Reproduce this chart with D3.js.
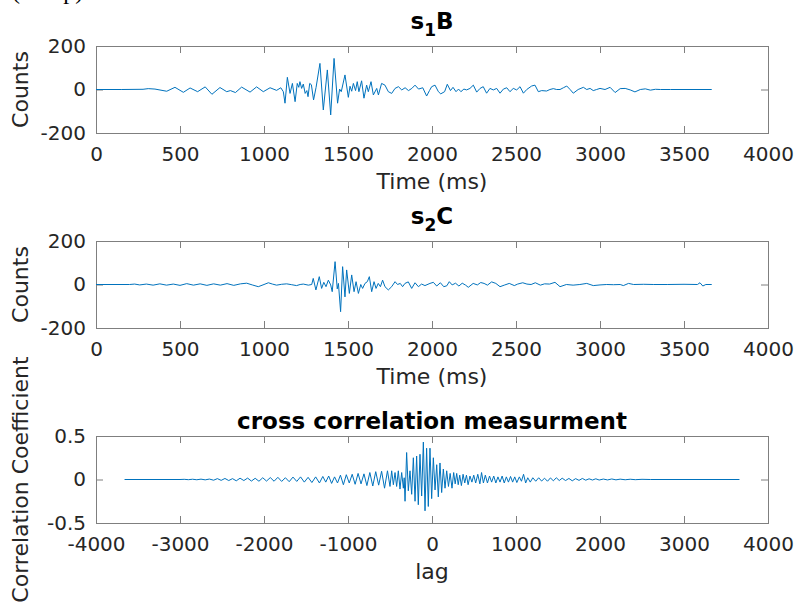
<!DOCTYPE html>
<html>
<head>
<meta charset="utf-8">
<script src="https://cdn.jsdelivr.net/npm/d3@7"></script>
<style>
  body { margin: 0; background: #fff; }
  svg { display: block; font-family: "DejaVu Sans", sans-serif; }
</style>
</head>
<body>
<div id="chart"></div>
<script>
// --- Data: [time (ms), counts] ---
const s1B = [
  [0, 0], [150, 0], [280, 1], [311, 4], [351, 2], [421, -8], [470, 10], [520, -13], [560, 7], [605, -10],
  [650, 12], [690, -22], [738, 9], [778, -10], [800, -5], [830, -14], [867, 11], [917, -12], [956, 12],
  [996, -10], [1036, 8], [1075, -4], [1100, 8], [1115, -10], [1125, -63], [1139, 56], [1155, -18], [1169, 28],
  [1185, -56], [1198, 28], [1207, 10], [1214, 36], [1224, 5], [1234, 25], [1245, -18], [1255, -5], [1262, -33],
  [1272, 28], [1282, 22], [1295, -48], [1310, 10], [1333, 120], [1353, -94], [1377, 90], [1397, -117],
  [1417, 143], [1438, -63], [1450, 2], [1460, -10], [1482, 67], [1502, -36], [1512, 15], [1522, -8],
  [1532, 28], [1545, -5], [1555, 36], [1565, -10], [1581, 40], [1595, -40], [1611, 20], [1621, -10],
  [1637, 36], [1651, -25], [1671, 5], [1681, -25], [1700, 28], [1720, 20], [1740, -10], [1760, -18],
  [1780, 5], [1800, 13], [1820, -2], [1840, 8], [1860, -5], [1880, 5], [1899, 20], [1920, 2], [1945, 8],
  [1968, -30], [1985, -5], [1998, 13], [2018, 20], [2038, -10], [2052, -20], [2075, -10], [2091, 24],
  [2110, -5], [2125, 10], [2143, -10], [2158, 2], [2172, -10], [2190, 2], [2206, -2], [2226, 5], [2246, 20],
  [2266, -12], [2286, 5], [2305, 13], [2325, -17], [2345, 5], [2365, -2], [2385, 5], [2405, -17], [2425, 2],
  [2445, 8], [2464, -10], [2484, 5], [2504, -2], [2524, 13], [2544, -17], [2564, 0], [2593, 16], [2613, 20],
  [2633, -10], [2653, -5], [2682, -7], [2702, 0], [2722, 4], [2742, 0], [2762, 0], [2782, 8], [2802, 16],
  [2822, 0], [2841, -17], [2870, 0], [2901, 10], [2921, 0], [2941, 5], [2960, -5], [2980, 0], [3000, 5],
  [3030, 0], [3060, 10], [3090, -14], [3120, 4], [3150, 5], [3180, -2], [3208, -11], [3240, 0], [3270, 3],
  [3300, -3], [3330, 1], [3360, 0], [3420, 0], [3500, 0], [3665, 0]
];

const s2C = [
  [0, 0], [200, 0], [230, 2], [260, -2], [300, 2], [340, -3], [380, 3], [420, -3], [460, 2], [500, -4],
  [540, 4], [580, -3], [620, 3], [660, -4], [700, 3], [740, -3], [780, 4], [820, -4], [860, 3], [897, 6],
  [930, -2], [966, -10], [1000, 0], [1026, 8], [1050, 2], [1075, -3], [1105, 1], [1135, 3], [1165, -1],
  [1194, -5], [1215, 0], [1234, 2], [1264, -3], [1284, 0], [1293, 28], [1309, -25], [1329, 36], [1343, -18],
  [1356, 10], [1369, -10], [1383, 20], [1397, -2], [1406, -33], [1423, 105], [1436, -20], [1443, 5],
  [1456, -125], [1468, 82], [1482, -57], [1492, 67], [1508, -41], [1522, 44], [1536, -33], [1548, 13],
  [1562, -41], [1576, 0], [1587, -18], [1601, 5], [1615, 13], [1627, 36], [1641, -33], [1655, 13],
  [1667, -18], [1680, 5], [1693, -10], [1706, 20], [1720, -10], [1740, -25], [1760, -10], [1780, 13],
  [1795, 0], [1811, 5], [1825, -10], [1839, 5], [1859, 12], [1879, -18], [1899, 8], [1919, -10], [1938, 2],
  [1958, -5], [1988, 5], [2008, 10], [2028, -7], [2050, 8], [2070, -10], [2088, -6], [2103, 13], [2120, -2],
  [2140, 6], [2160, -7], [2180, 6], [2200, -3], [2216, -13], [2245, 5], [2270, -2], [2290, 9], [2310, 5],
  [2330, -3], [2355, 12], [2380, 5], [2405, -10], [2430, -3], [2460, 5], [2490, -5], [2510, 2], [2540, 8],
  [2565, 2], [2590, 0], [2615, 8], [2645, -3], [2670, 3], [2700, 2], [2732, 10], [2762, -10], [2800, 0],
  [2840, -3], [2880, 0], [2921, 5], [2960, -5], [3000, -2], [3040, 0], [3080, -1], [3120, 0], [3139, -5],
  [3170, 5], [3200, 0], [3260, 1], [3320, 0], [3400, 0], [3500, 1], [3580, 0], [3595, 8], [3612, -7],
  [3630, 0], [3665, 0]
];

// [lag (ms), correlation coefficient]
const xcorr = [
  [-3660, 0], [-3000, 0], [-2950, 0.002], [-2900, -0.002], [-2850, 0.003], [-2800, -0.003], [-2750, 0.004],
  [-2700, -0.004], [-2650, 0.005], [-2600, -0.008], [-2555, 0.01], [-2510, -0.01], [-2465, 0.012],
  [-2420, -0.012], [-2375, 0.01], [-2330, -0.015], [-2285, 0.015], [-2240, -0.012], [-2195, 0.016],
  [-2150, -0.018], [-2105, 0.014], [-2060, -0.02], [-2015, 0.02], [-1970, -0.018], [-1925, 0.022],
  [-1880, -0.02], [-1835, 0.025], [-1790, -0.022], [-1745, 0.02], [-1700, -0.025], [-1655, 0.028],
  [-1610, -0.022], [-1565, 0.03], [-1520, -0.03], [-1475, 0.025], [-1430, -0.035], [-1385, 0.03],
  [-1340, -0.04], [-1300, 0.035], [-1265, -0.03], [-1230, 0.04], [-1195, -0.045], [-1160, 0.03],
  [-1125, -0.04], [-1090, 0.05], [-1055, -0.06], [-1020, 0.055], [-985, -0.04], [-950, 0.06], [-915, -0.055],
  [-880, 0.07], [-845, -0.05], [-810, 0.065], [-775, -0.07], [-740, 0.08], [-705, -0.075], [-670, 0.09],
  [-635, -0.065], [-600, 0.095], [-565, -0.1], [-530, 0.1], [-500, -0.08], [-480, 0.1], [-460, -0.06],
  [-440, 0.08], [-421, -0.08], [-401, 0.1], [-381, -0.11], [-361, 0.08], [-341, -0.1], [-331, 0.02],
  [-321, -0.25], [-302, 0.31], [-282, -0.13], [-262, 0.1], [-242, -0.17], [-222, 0.25], [-202, -0.25],
  [-183, 0.27], [-163, -0.29], [-143, 0.29], [-123, -0.19], [-103, 0.43], [-83, -0.36], [-64, 0.36],
  [-44, -0.31], [-24, 0.36], [-4, -0.22], [16, 0.25], [36, -0.12], [56, 0.17], [75, -0.2], [95, 0.19],
  [115, -0.15], [135, 0.12], [155, -0.1], [175, 0.1], [196, -0.08], [216, 0.07], [238, -0.1], [258, 0.08],
  [276, -0.05], [294, 0.07], [312, -0.06], [330, 0.05], [350, -0.07], [370, 0.06], [390, -0.04], [410, 0.05],
  [430, -0.06], [452, 0.04], [475, -0.03], [497, 0.05], [520, -0.04], [545, 0.06], [570, -0.05], [590, 0.08],
  [612, -0.04], [635, 0.05], [660, -0.04], [685, 0.04], [710, -0.03], [735, 0.04], [760, -0.04], [785, 0.03],
  [810, -0.03], [835, 0.04], [860, -0.04], [885, 0.03], [910, -0.03], [935, 0.035], [960, -0.03], [985, 0.03],
  [1010, -0.035], [1040, 0.03], [1065, -0.02], [1090, 0.06], [1115, -0.04], [1140, 0.02], [1170, -0.03],
  [1200, 0.02], [1235, -0.02], [1270, 0.02], [1305, -0.018], [1340, 0.015], [1375, -0.02], [1410, 0.018],
  [1445, -0.015], [1480, 0.02], [1515, -0.012], [1550, 0.015], [1590, -0.012], [1630, 0.012], [1670, -0.015],
  [1710, 0.01], [1750, -0.01], [1790, 0.012], [1830, -0.008], [1870, 0.008], [1910, -0.006], [1950, 0.008],
  [1990, -0.006], [2040, 0.005], [2090, -0.005], [2140, 0.006], [2190, -0.004], [2240, 0.004],
  [2300, -0.003], [2360, 0.003], [2420, -0.002], [2500, 0.002], [2600, 0], [3660, 0]
];

const timeTicks = [0, 500, 1000, 1500, 2000, 2500, 3000, 3500, 4000];
const countTicks = [-200, 0, 200];
const lagTicks = [-4000, -3000, -2000, -1000, 0, 1000, 2000, 3000, 4000];
const corrTicks = [-0.5, 0, 0.5];

// --- Layout ---
const width = 796, height = 606;
const left = 96, plotW = 672, plotH = 87;
const textColor = "#262626", boxColor = "#7f7f7f", lineColor = "#0072BD";

const panels = [
  { title: ["s", "1", "B"], data: s1B, xDomain: [0, 4000], yDomain: [-200, 200],
    xTicks: timeTicks, yTicks: countTicks, xLabel: "Time (ms)", yLabel: "Counts", top: 46, titleY: 29 },
  { title: ["s", "2", "C"], data: s2C, xDomain: [0, 4000], yDomain: [-200, 200],
    xTicks: timeTicks, yTicks: countTicks, xLabel: "Time (ms)", yLabel: "Counts", top: 241, titleY: 224 },
  { title: ["cross correlation measurment"], data: xcorr, xDomain: [-4000, 4000], yDomain: [-0.5, 0.5],
    xTicks: lagTicks, yTicks: corrTicks, xLabel: "lag", yLabel: "Correlation Coefficient", top: 436, titleY: 429 }
];

const svg = d3.select("#chart").append("svg")
  .attr("width", width)
  .attr("height", height);

// caption clipped at the very top, as in the original
svg.append("text")
  .attr("x", 12)
  .attr("y", -1)
  .attr("font-family", "'Liberation Serif', serif")
  .attr("font-size", 24)
  .attr("fill", "#000")
  .text("(mm p)");

panels.forEach((p) => {
  const x = d3.scaleLinear().domain(p.xDomain).range([0, plotW]);
  const y = d3.scaleLinear().domain(p.yDomain).range([plotH, 0]);
  const g = svg.append("g").attr("transform", `translate(${left},${p.top})`);
  const fmt = (d) => String(d);

  // Axes (ticks pointing inward on all four sides)
  const xb = g.append("g").attr("transform", `translate(0,${plotH})`)
    .call(d3.axisBottom(x).tickValues(p.xTicks).tickSize(-7).tickPadding(14).tickFormat(fmt));
  const xt = g.append("g")
    .call(d3.axisTop(x).tickValues(p.xTicks).tickSize(-7).tickFormat(""));
  const yl = g.append("g")
    .call(d3.axisLeft(y).tickValues(p.yTicks).tickSize(-7).tickPadding(10).tickFormat(fmt));
  const yr = g.append("g").attr("transform", `translate(${plotW},0)`)
    .call(d3.axisRight(y).tickValues(p.yTicks).tickSize(-7).tickFormat(""));

  [xb, xt, yl, yr].forEach((a) => {
    a.select(".domain").remove();
    a.selectAll(".tick line").attr("stroke", boxColor);
    a.selectAll("text").attr("fill", textColor).attr("font-size", 20)
      .attr("font-family", "'DejaVu Sans', sans-serif");
  });

  // Box
  g.append("rect")
    .attr("x", 0.5).attr("y", 0.5)
    .attr("width", plotW).attr("height", plotH)
    .attr("fill", "none").attr("stroke", boxColor);

  // Signal
  const line = d3.line().x((d) => x(d[0])).y((d) => y(d[1]));
  g.append("path")
    .datum(p.data)
    .attr("d", line)
    .attr("fill", "none")
    .attr("stroke", lineColor)
    .attr("stroke-width", 1)
    .attr("stroke-linejoin", "round");

  // Title
  const t = svg.append("text")
    .attr("x", left + plotW / 2)
    .attr("y", p.titleY)
    .attr("text-anchor", "middle")
    .attr("font-size", 23)
    .attr("font-weight", "bold")
    .attr("fill", "#000");
  if (p.title.length === 3) {
    t.append("tspan").text(p.title[0]);
    t.append("tspan").attr("font-size", 17).attr("dy", 7).text(p.title[1]);
    t.append("tspan").attr("dy", -7).text(p.title[2]);
  } else {
    t.text(p.title[0]);
  }

  // Axis labels
  svg.append("text")
    .attr("x", left + plotW / 2)
    .attr("y", p.top + plotH + 56)
    .attr("text-anchor", "middle")
    .attr("font-size", 22)
    .attr("fill", textColor)
    .text(p.xLabel);

  svg.append("text")
    .attr("transform", `translate(28,${p.top + plotH / 2}) rotate(-90)`)
    .attr("text-anchor", "middle")
    .attr("font-size", 22)
    .attr("fill", textColor)
    .text(p.yLabel);
});
</script>
</body>
</html>
